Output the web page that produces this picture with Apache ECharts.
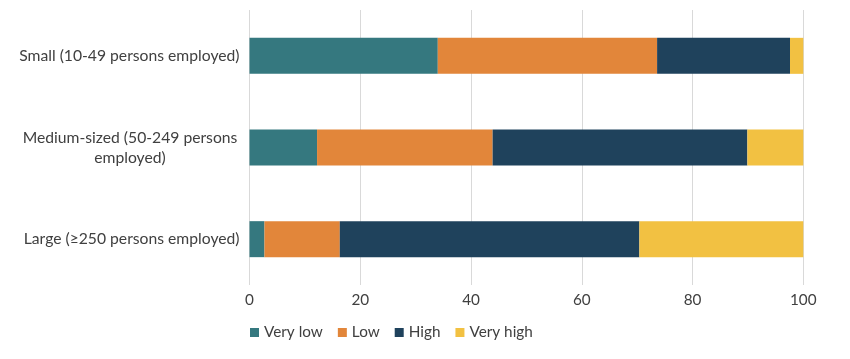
<!DOCTYPE html>
<html><head><meta charset="utf-8">
<script src="https://cdn.jsdelivr.net/npm/echarts@6/dist/echarts.min.js"></script>
<style>html,body{margin:0;padding:0;background:#fff}#c{width:850px;height:359px}</style>
</head><body><div id="c"></div>
<script>
const categories = ['Small (10-49 persons employed)', 'Medium-sized (50-249 persons employed)', 'Large (≥250 persons employed)'];
const seriesNames = ['Very low', 'Low', 'High', 'Very high'];
const veryLow = [34.0, 12.2, 2.7];
const low = [39.6, 31.7, 13.6];
const high = [24.0, 46.0, 54.1];
const veryHigh = [2.4, 10.1, 29.6];
const xTicks = [0, 20, 40, 60, 80, 100];
const colors = ['#35787F', '#E2863A', '#1F425C', '#F2C142'];
const values = [veryLow, low, high, veryHigh];
const font = 'Lato';
const fs = 15.7;

const chart = echarts.init(document.getElementById('c'), null, {renderer: 'canvas'});
chart.setOption({
  animation: false,
  textStyle: {fontFamily: font},
  grid: {left: 249.5, right: 46.7, top: 10, bottom: 74},
  legend: {
    left: 245, top: 320, itemWidth: 9, itemHeight: 9, itemGap: 15,
    icon: 'rect',
    textStyle: {fontSize: 15.3, color: '#404040', fontFamily: font},
    data: seriesNames
  },
  xAxis: {
    type: 'value', min: xTicks[0], max: xTicks[xTicks.length - 1], interval: 20,
    axisLine: {show: false}, axisTick: {show: false},
    splitLine: {lineStyle: {color: '#d9d9d9', width: 1}},
    axisLabel: {fontSize: 15.3, color: '#404040', margin: 8, fontFamily: font}
  },
  yAxis: {
    type: 'category', inverse: true, data: categories,
    axisLine: {show: false}, axisTick: {show: false},
    axisLabel: {
      fontSize: fs, color: '#404040', margin: 10, fontFamily: font, lineHeight: 20,
      formatter: function (v) {
        if (v.indexOf('Medium') === 0) {
          return '{c|Medium-sized (50-249 persons}\n{c|employed)}';
        }
        return v;
      },
      rich: {c: {fontSize: fs, color: '#404040', fontFamily: font, width: 219, align: 'center', lineHeight: 20}}
    }
  },
  series: seriesNames.map((n, i) => ({
    name: n, type: 'bar', stack: 'total', barWidth: 36,
    itemStyle: {color: colors[i]},
    data: values[i]
  }))
});
</script></body></html>
